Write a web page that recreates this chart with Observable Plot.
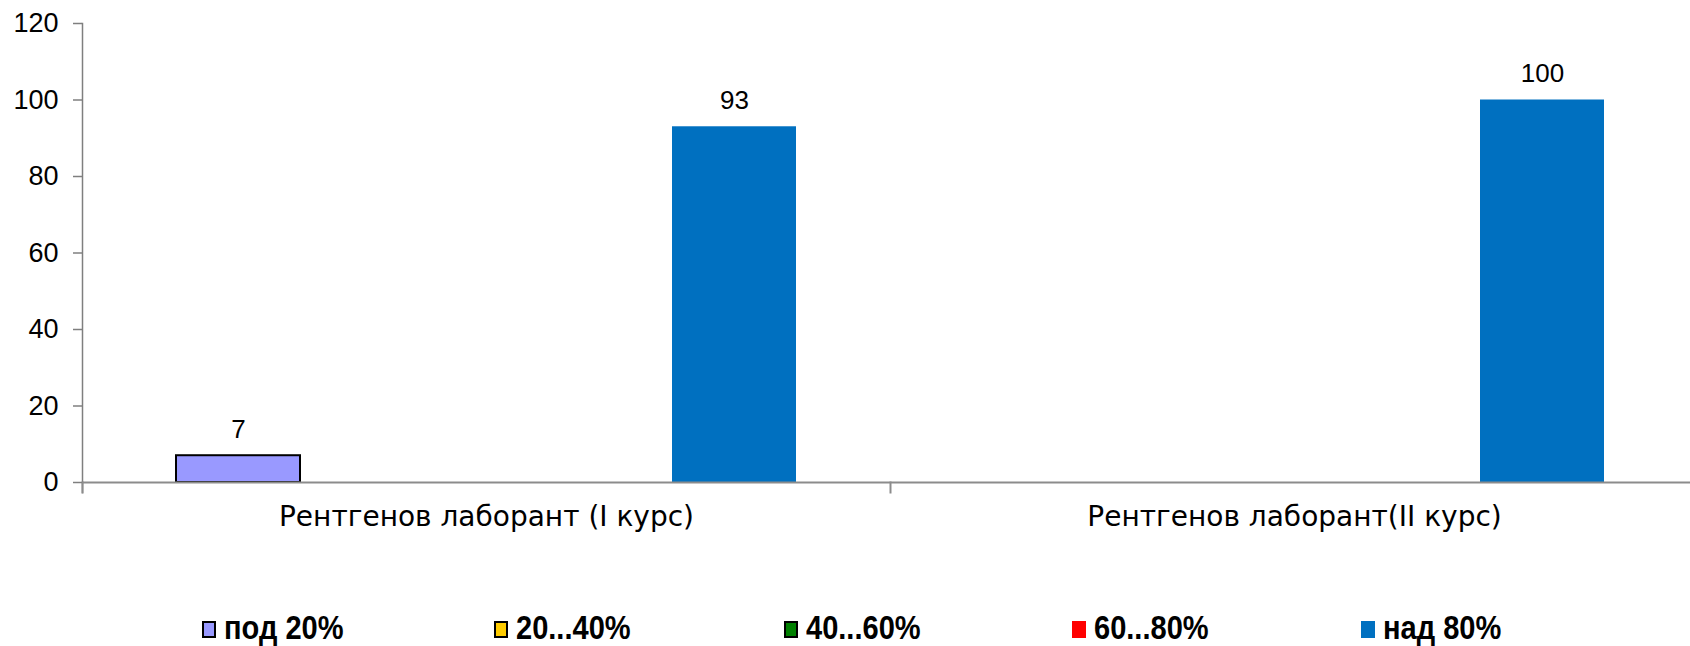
<!DOCTYPE html>
<html>
<head>
<meta charset="utf-8">
<script src="https://cdn.jsdelivr.net/npm/d3@7"></script>
<script src="https://cdn.jsdelivr.net/npm/@observablehq/plot@0.6"></script>
<style>
  html, body { margin: 0; padding: 0; background: #fff; }
  #chart svg { display: block; overflow: hidden; }
  #legend { position: relative; height: 96px; width: 1690px; }
  .item { position: absolute; top: 0; height: 96px; display: flex; align-items: flex-start; padding-top: 61px; box-sizing: border-box; }
  .sw { width: 14px; height: 17px; margin-top: 10px; margin-right: 8px; box-sizing: border-box; flex: none; }
  .lbl { font-family: "Liberation Sans", Arial, sans-serif; font-weight: bold; font-size: 33px; line-height: 33px; color: #000; display: inline-block; transform: scaleX(0.88); transform-origin: left center; white-space: nowrap; }
</style>
</head>
<body>
<div id="chart"></div>
<div id="legend"></div>
<script>
const categories = ["Рентгенов лаборант (I курс)", "Рентгенов лаборант(II курс)"];
const series = ["под 20%", "20...40%", "40...60%", "60...80%", "над 80%"];
const seriesValues = [
  [7, 0],    // под 20%
  [0, 0],    // 20...40%
  [0, 0],    // 40...60%
  [0, 0],    // 60...80%
  [93, 100]  // над 80%
];
const seriesColors = ["#9999FF", "#FFCC00", "#008000", "#FF0000", "#0070C0"];
const seriesOutlined = [true, true, true, false, false];
const yTicks = [0, 20, 40, 60, 80, 100, 120];

const table = categories.flatMap((c, i) =>
  series.map((s, j) => ({category: c, series: s, value: seriesValues[j][i], outlined: seriesOutlined[j]}))
);
const shown = table.filter(d => d.value > 0);

const chart = Plot.plot({
  width: 1690,
  height: 550,
  marginLeft: 82,
  marginRight: -8,
  marginTop: 23,
  marginBottom: 68,
  style: {fontFamily: "'Liberation Sans', Arial, sans-serif", background: "#fff", color: "#000"},
  fx: {domain: categories, padding: 0, label: null},
  x: {domain: series, paddingInner: 0, paddingOuter: 0.745, axis: null},
  y: {domain: [0, 120], axis: null},
  color: {domain: series, range: seriesColors},
  marks: [
    Plot.barY(shown.filter(d => d.outlined), {
      fx: "category", x: "series", y: "value",
      fill: "series", stroke: "#000", strokeWidth: 2
    }),
    Plot.barY(shown.filter(d => !d.outlined), {
      fx: "category", x: "series", y: "value",
      fill: "series"
    }),
    Plot.ruleY([0], {stroke: "#8c8c8c", strokeWidth: 2}),
    Plot.frame({anchor: "left", stroke: "#7f7f7f", strokeWidth: 1.5, insetBottom: -10, facetAnchor: "left"}),
    Plot.frame({anchor: "left", stroke: "#8c8c8c", strokeWidth: 2, insetTop: 459, insetBottom: -10}),
    Plot.axisY({
      ticks: yTicks, tickSize: 9, tickPadding: 15, fontSize: 27, label: null,
      stroke: "#7f7f7f", strokeWidth: 1.5
    }),
    Plot.axisFx({
      anchor: "bottom", tickSize: 0, tickPadding: 24, fontSize: 28,
      fontFamily: "'DejaVu Sans', Verdana, sans-serif", label: null
    }),
    Plot.text(shown, {
      fx: "category", x: "series", y: "value", text: d => String(d.value),
      lineAnchor: "bottom", dy: -18, fontSize: 26, fill: "#000"
    })
  ]
});
document.getElementById("chart").appendChild(chart);

const legend = document.getElementById("legend");
const legendX = [202, 494, 784, 1072, 1361];
series.forEach((s, j) => {
  const item = document.createElement("div");
  item.className = "item";
  item.style.left = legendX[j] + "px";
  const sw = document.createElement("div");
  sw.className = "sw";
  sw.style.background = seriesColors[j];
  if (seriesOutlined[j]) sw.style.border = "2px solid #000";
  const lbl = document.createElement("span");
  lbl.className = "lbl";
  lbl.textContent = s;
  item.appendChild(sw);
  item.appendChild(lbl);
  legend.appendChild(item);
});
</script>
</body>
</html>
